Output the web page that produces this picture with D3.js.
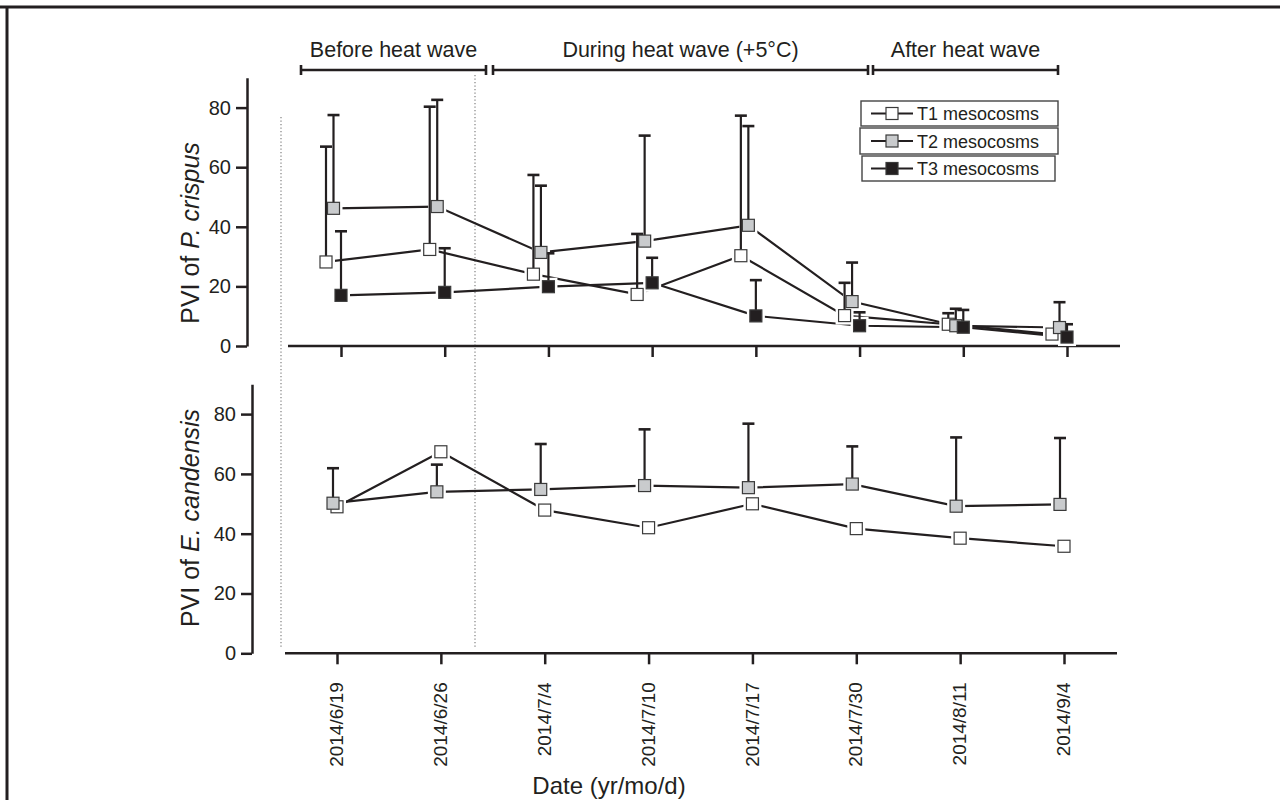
<!DOCTYPE html>
<html>
<head>
<meta charset="utf-8">
<script src="https://cdn.jsdelivr.net/npm/d3@7.9.0/dist/d3.min.js"></script>
<style>
  html, body { margin: 0; padding: 0; background: #fff; }
  svg { display: block; font-family: "Liberation Sans", Arial, sans-serif; }
</style>
</head>
<body>
<svg id="chart" width="1280" height="800"></svg>
<script>
// sampling dates
const dates = ["2014/6/19", "2014/6/26", "2014/7/4", "2014/7/10", "2014/7/17", "2014/7/30", "2014/8/11", "2014/9/4"];

// PVI of P. crispus (mean, SD)
const pcT1 = [28.2, 32.4, 24.1, 17.3, 30.3, 10.2, 7.3, 4.0];
const pcT1Sd = [38.7, 47.9, 33.3, 20.3, 47.0, 11.0, 3.7, 1.0];
const pcT2 = [46.2, 46.8, 31.4, 35.2, 40.5, 14.9, 6.8, 6.2];
const pcT2Sd = [31.3, 35.8, 22.4, 35.4, 33.3, 13.1, 5.7, 8.5];
const pcT3 = [17.0, 18.0, 19.9, 21.2, 10.1, 6.8, 6.3, 3.0];
const pcT3Sd = [21.5, 14.8, 11.2, 8.4, 12.0, 4.5, 5.8, 4.3];

// PVI of E. candensis (mean, SD)
const ecT1 = [49.0, 67.4, 47.9, 42.0, 50.0, 41.7, 38.5, 35.8];
const ecT2 = [50.2, 54.0, 54.8, 56.1, 55.4, 56.6, 49.2, 49.8];
const ecT2Sd = [11.7, 9.1, 15.2, 18.8, 21.4, 12.6, 23.0, 22.2];

const yTicks = [0, 20, 40, 60, 80];
const seriesNames = ["T1 mesocosms", "T2 mesocosms", "T3 mesocosms"];
const phases = [
  { label: "Before heat wave", from: 0, to: 1 },
  { label: "During heat wave (+5°C)", from: 2, to: 5 },
  { label: "After heat wave", from: 6, to: 7 }
];

const ink = "#231f20";
const fills = ["#ffffff", "#c9cbcd", "#231f20"];
const size = 12;

const svg = d3.select("#chart");

// frame (top and left edges only)
svg.append("line").attr("x1", 0).attr("x2", 1280).attr("y1", 7).attr("y2", 7)
  .attr("stroke", ink).attr("stroke-width", 3);
svg.append("line").attr("x1", 7).attr("x2", 7).attr("y1", 6).attr("y2", 800)
  .attr("stroke", ink).attr("stroke-width", 3);

const panels = [
  {
    title: ["PVI of ", "P. crispus"],
    x: d3.scalePoint().domain(dates).range([341, 1067]),
    y: d3.scaleLinear().domain([0, 90]).range([346, 77.8]),
    yAxisX: 247, xLine: [288, 1120], titleY: 233, labels: false,
    series: [
      { v: pcT1, sd: pcT1Sd, fill: fills[0], dx: -15 },
      { v: pcT2, sd: pcT2Sd, fill: fills[1], dx: -7.5 },
      { v: pcT3, sd: pcT3Sd, fill: fills[2], dx: 0 }
    ]
  },
  {
    title: ["PVI of ", "E. candensis"],
    x: d3.scalePoint().domain(dates).range([337, 1064]),
    y: d3.scaleLinear().domain([0, 90]).range([653.3, 384.2]),
    yAxisX: 252, xLine: [285, 1117], titleY: 518, labels: true,
    series: [
      { v: ecT1, sd: null, fill: fills[0], dx: 0 },
      { v: ecT2, sd: ecT2Sd, fill: fills[1], dx: -4 }
    ]
  }
];

// dotted phase separators
[[281, 117, 648], [475, 75, 648]].forEach(([x, y1, y2]) => {
  svg.append("line").attr("x1", x).attr("x2", x).attr("y1", y1).attr("y2", y2)
    .attr("stroke", "#8a8a8a").attr("stroke-width", 1.3).attr("stroke-dasharray", "1.3,2.2");
});

panels.forEach(p => {
  const g = svg.append("g");

  // y axis
  g.append("g")
    .attr("transform", `translate(${p.yAxisX},0)`)
    .call(d3.axisLeft(p.y).tickValues(yTicks).tickSize(11).tickSizeOuter(0).tickPadding(5))
    .call(a => a.select(".domain").attr("stroke", ink).attr("stroke-width", 2.5))
    .call(a => a.selectAll(".tick line").attr("stroke", ink).attr("stroke-width", 2.5))
    .call(a => a.selectAll(".tick text").attr("fill", ink)
      .style("font-size", "20px").style("font-family", "Liberation Sans, Arial, sans-serif"));

  // y title
  const t = g.append("text")
    .attr("transform", `translate(199,${p.titleY}) rotate(-90)`)
    .attr("text-anchor", "middle").attr("fill", ink)
    .style("font-size", "25px");
  t.append("tspan").text(p.title[0]);
  t.append("tspan").style("font-style", "italic").text(p.title[1]);

  // x axis
  const y0 = p.y(0);
  g.append("line").attr("x1", p.xLine[0]).attr("x2", p.xLine[1]).attr("y1", y0).attr("y2", y0)
    .attr("stroke", ink).attr("stroke-width", 2.5);
  const xa = g.append("g")
    .attr("transform", `translate(0,${y0})`)
    .call(d3.axisBottom(p.x).tickSize(11).tickSizeOuter(0));
  xa.select(".domain").remove();
  xa.selectAll(".tick line").attr("stroke", ink).attr("stroke-width", 2.5);
  if (p.labels) {
    xa.selectAll(".tick text")
      .attr("transform", "rotate(-90)")
      .attr("text-anchor", "end")
      .attr("x", -29).attr("y", 0).attr("dy", "0.3em")
      .attr("fill", ink)
      .style("font-size", "19px").style("font-family", "Liberation Sans, Arial, sans-serif");
  } else {
    xa.selectAll(".tick text").remove();
  }

  const line = d3.line();
  const pts = s => s.v.map((v, i) => [p.x(dates[i]) + s.dx, p.y(v)]);

  // connecting lines
  p.series.forEach(s => {
    g.append("path").attr("d", line(pts(s)))
      .attr("fill", "none").attr("stroke", ink).attr("stroke-width", 2.2);
  });

  // white halos around markers
  p.series.forEach(s => {
    g.selectAll(null).data(pts(s)).join("rect")
      .attr("x", d => d[0] - size / 2 - 3).attr("y", d => d[1] - size / 2 - 3)
      .attr("width", size + 6).attr("height", size + 6).attr("fill", "#fff");
  });

  // error bars (upper only)
  p.series.filter(s => s.sd).forEach(s => {
    s.v.forEach((v, i) => {
      const cx = p.x(dates[i]) + s.dx;
      const top = p.y(v + s.sd[i]);
      g.append("line").attr("x1", cx).attr("x2", cx).attr("y1", p.y(v)).attr("y2", top)
        .attr("stroke", ink).attr("stroke-width", 2.2);
      g.append("line").attr("x1", cx - 6).attr("x2", cx + 6).attr("y1", top).attr("y2", top)
        .attr("stroke", ink).attr("stroke-width", 2.6);
    });
  });

  // markers
  p.series.forEach(s => {
    g.selectAll(null).data(pts(s)).join("rect")
      .attr("x", d => d[0] - size / 2).attr("y", d => d[1] - size / 2)
      .attr("width", size).attr("height", size)
      .attr("fill", s.fill).attr("stroke", "#3a3a3a").attr("stroke-width", 1.2);
  });
});

// phase brackets
const bracketEnds = [[301, 486], [493, 868], [873, 1058]];
phases.forEach((ph, i) => {
  const [a, b] = bracketEnds[i];
  const gb = svg.append("g");
  gb.append("line").attr("x1", a).attr("x2", b).attr("y1", 70).attr("y2", 70)
    .attr("stroke", ink).attr("stroke-width", 2.6);
  [a, b].forEach(x => gb.append("line").attr("x1", x).attr("x2", x).attr("y1", 65).attr("y2", 75)
    .attr("stroke", ink).attr("stroke-width", 2.6));
  gb.append("text").attr("x", (a + b) / 2).attr("y", 57).attr("text-anchor", "middle")
    .attr("fill", ink).style("font-size", "21.5px").text(ph.label);
});

// legend (three stacked boxes)
const legendBoxes = [[861, 101, 197, 25], [860, 128, 198, 26], [862, 156, 193, 25]];
seriesNames.forEach((name, i) => {
  const [bx, by, bw, bh] = legendBoxes[i];
  const lg = svg.append("g");
  lg.append("rect").attr("x", bx).attr("y", by).attr("width", bw).attr("height", bh)
    .attr("fill", "#fff").attr("stroke", "#444").attr("stroke-width", 1.4);
  const cy = by + bh / 2;
  lg.append("line").attr("x1", 871).attr("x2", 913).attr("y1", cy).attr("y2", cy)
    .attr("stroke", ink).attr("stroke-width", 2);
  lg.append("rect").attr("x", 892 - 6).attr("y", cy - 6).attr("width", 12).attr("height", 12)
    .attr("fill", fills[i]).attr("stroke", "#3a3a3a").attr("stroke-width", 1.2);
  lg.append("text").attr("x", 917).attr("y", cy + 6.5).attr("fill", ink)
    .style("font-size", "18px").text(name);
});

// x title
svg.append("text").attr("x", 609).attr("y", 794).attr("text-anchor", "middle")
  .attr("fill", ink).style("font-size", "24px").text("Date (yr/mo/d)");
</script>
</body>
</html>
